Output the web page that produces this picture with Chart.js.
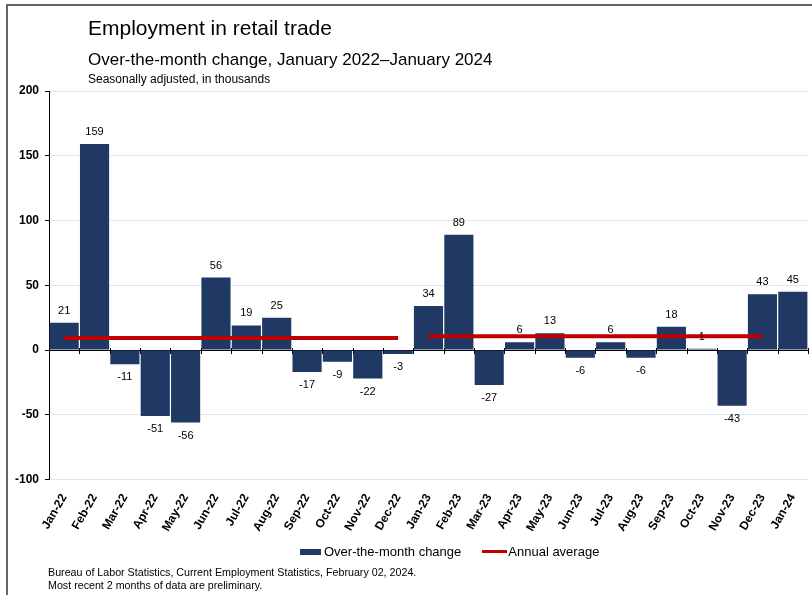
<!DOCTYPE html>
<html>
<head>
<meta charset="utf-8">
<script src="https://cdn.jsdelivr.net/npm/chart.js@4"></script>
<style>
  body { margin: 0; background: #fff; font-family: 'Liberation Sans', Arial, sans-serif; }
  #wrap { position: relative; width: 812px; height: 595px; overflow: hidden; }
  #frame { position: absolute; left: 6px; top: 4px; width: 820px; height: 600px; border-left: 2px solid #666; border-top: 2px solid #666; }
  .txt { position: absolute; color: #000; white-space: nowrap; }
  #title { left: 88px; top: 16px; font-size: 21px; }
  #subtitle { left: 88px; top: 50px; font-size: 17px; }
  #note { left: 88px; top: 72px; font-size: 12px; }
  #source { left: 48px; top: 566px; font-size: 10.7px; line-height: 13px; }
  #legend { left: 300px; top: 543px; font-size: 13px; line-height: 16px; }
  #legend span { display: inline-block; vertical-align: middle; }
  .swatch-bar { width: 21px; height: 6px; background: #1f3864; margin-right: 3px; }
  .swatch-line { width: 25px; height: 3px; background: #c00000; margin-left: 21px; margin-right: 1px; }
  canvas { position: absolute; left: 0; top: 0; }
</style>
</head>
<body>
<div id="wrap">
  <div id="frame"></div>
  <canvas id="chart" width="812" height="595"></canvas>
  <div class="txt" id="title">Employment in retail trade</div>
  <div class="txt" id="subtitle">Over-the-month change, January 2022&ndash;January 2024</div>
  <div class="txt" id="note">Seasonally adjusted, in thousands</div>
  <div class="txt" id="legend"><span class="swatch-bar"></span><span>Over-the-month change</span><span class="swatch-line"></span><span>Annual average</span></div>
  <div class="txt" id="source">Bureau of Labor Statistics, Current Employment Statistics, February 02, 2024.<br>Most recent 2 months of data are preliminary.</div>
</div>
<script>
// Chart data
const months = ['Jan-22', 'Feb-22', 'Mar-22', 'Apr-22', 'May-22', 'Jun-22', 'Jul-22', 'Aug-22', 'Sep-22', 'Oct-22', 'Nov-22', 'Dec-22',
  'Jan-23', 'Feb-23', 'Mar-23', 'Apr-23', 'May-23', 'Jun-23', 'Jul-23', 'Aug-23', 'Sep-23', 'Oct-23', 'Nov-23', 'Dec-23', 'Jan-24'];
const monthlyChange = [21, 159, -11, -51, -56, 56, 19, 25, -17, -9, -22, -3,
  34, 89, -27, 6, 13, -6, 6, -6, 18, 1, -43, 43, 45];
const avg2022 = [9.25, 9.25, 9.25, 9.25, 9.25, 9.25, 9.25, 9.25, 9.25, 9.25, 9.25, 9.25,
  null, null, null, null, null, null, null, null, null, null, null, null, null];
const avg2023 = [null, null, null, null, null, null, null, null, null, null, null, null,
  10.67, 10.67, 10.67, 10.67, 10.67, 10.67, 10.67, 10.67, 10.67, 10.67, 10.67, 10.67, null];
const yTicks = [-100, -50, 0, 50, 100, 150, 200];

const navy = '#1f3864';
const red = '#c00000';
const font = "'Liberation Sans', Arial, sans-serif";

// value labels above/below bars + tick marks on the zero line
const barLabels = {
  id: 'barLabels',
  afterDatasetsDraw(chart) {
    const ctx = chart.ctx;
    const meta = chart.getDatasetMeta(0);
    const x = chart.scales.x;
    const y0 = chart.scales.y.getPixelForValue(0);
    ctx.save();
    ctx.strokeStyle = '#000';
    ctx.lineWidth = 1;
    for (let i = 0; i <= months.length; i++) {
      const px = Math.round(x.left + (x.right - x.left) * i / months.length) + 0.5;
      ctx.beginPath();
      ctx.moveTo(px, y0 - 2);
      ctx.lineTo(px, y0 + 4);
      ctx.stroke();
    }
    ctx.fillStyle = '#000';
    ctx.font = '11px ' + font;
    ctx.textAlign = 'center';
    ctx.textBaseline = 'middle';
    meta.data.forEach((bar, i) => {
      const v = monthlyChange[i];
      const py = v >= 0 ? bar.y - 12 : bar.y + 13;
      ctx.fillText(String(v), bar.x, py);
    });
    ctx.restore();
  }
};

new Chart(document.getElementById('chart').getContext('2d'), {
  data: {
    labels: months,
    datasets: [
      {
        type: 'bar',
        label: 'Over-the-month change',
        data: monthlyChange,
        backgroundColor: navy,
        borderWidth: 0,
        barPercentage: 0.96,
        categoryPercentage: 1,
        order: 2
      },
      {
        type: 'line',
        label: 'Annual average',
        data: avg2022,
        borderColor: red,
        borderWidth: 4,
        pointRadius: 0,
        spanGaps: false,
        order: 1
      },
      {
        type: 'line',
        label: 'Annual average 2023',
        data: avg2023,
        borderColor: red,
        borderWidth: 4,
        pointRadius: 0,
        spanGaps: false,
        order: 1
      }
    ]
  },
  options: {
    responsive: false,
    animation: false,
    layout: { padding: { top: 91, right: 4, bottom: 57, left: 8 } },
    plugins: {
      legend: { display: false },
      tooltip: { enabled: false }
    },
    scales: {
      x: {
        offset: true,
        grid: { display: false },
        border: { display: false },
        ticks: {
          color: '#000',
          maxRotation: 60,
          minRotation: 60,
          padding: 4,
          font: { family: font, size: 12, weight: 'bold' }
        }
      },
      y: {
        min: -100,
        max: 200,
        afterBuildTicks: scale => { scale.ticks = yTicks.map(v => ({ value: v })); },
        afterFit: scale => { scale.width = 41; },
        grid: {
          color: ctx => ctx.tick && ctx.tick.value === 0 ? '#000' : '#dce6f2',
          lineWidth: 1,
          tickLength: 4,
          tickColor: '#000'
        },
        border: { display: true, color: '#000' },
        ticks: {
          color: '#000',
          padding: 6,
          font: { family: font, size: 12, weight: 'bold' }
        }
      }
    }
  },
  plugins: [barLabels]
});
</script>
</body>
</html>
